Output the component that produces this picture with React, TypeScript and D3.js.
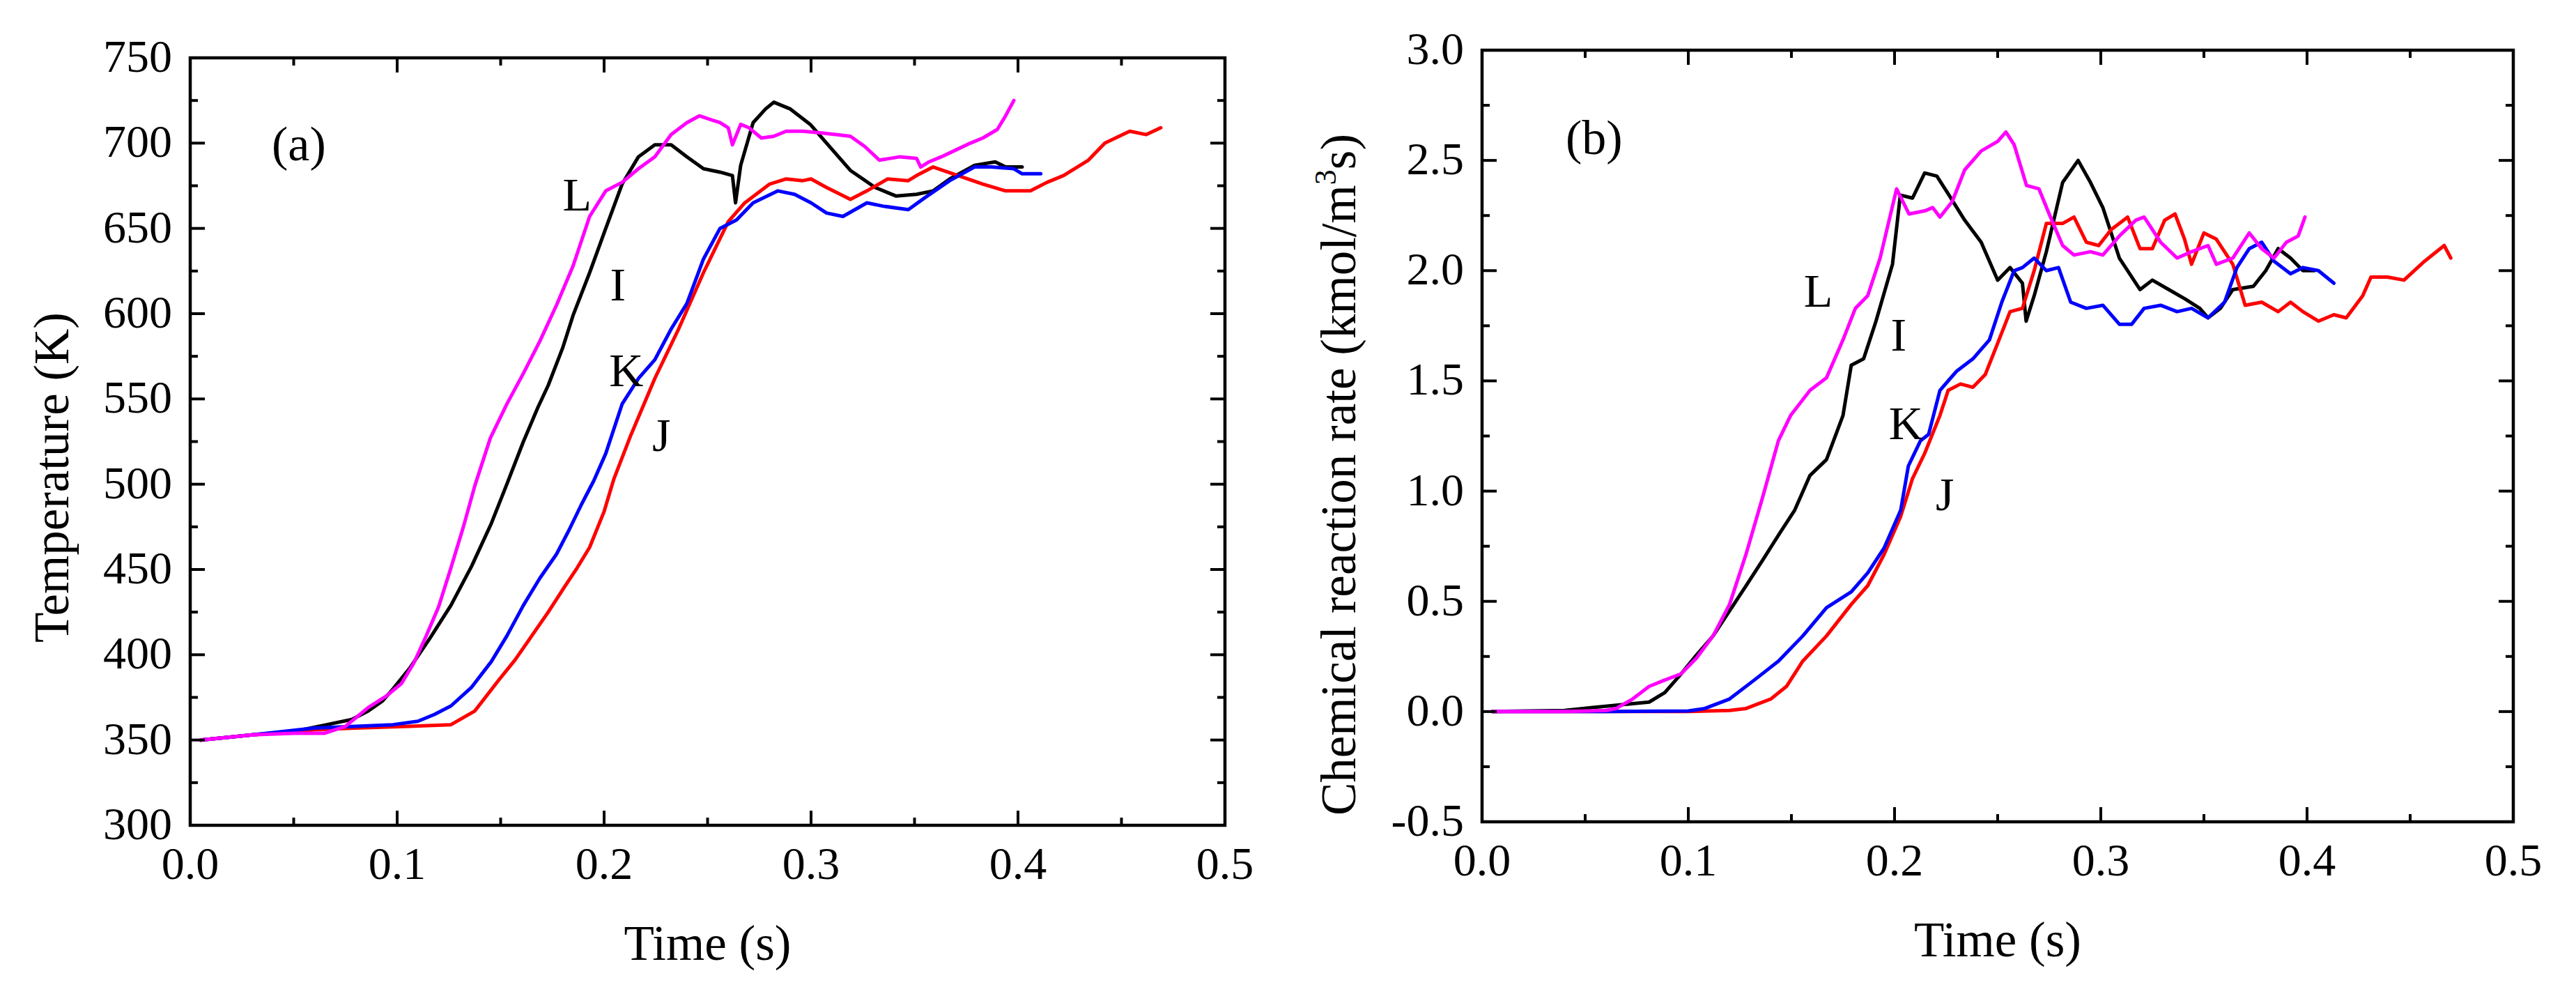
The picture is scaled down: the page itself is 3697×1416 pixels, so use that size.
import React from "react";
import * as d3 from "d3";

type Pt = [number, number];

// Panel (a): temperature (K) vs time (s)
const tempI: Pt[] = [[0.005,350],[0.03,353],[0.05,355],[0.066,359],[0.078,362],[0.086,367],[0.093,373],[0.098,380],[0.106,392],[0.116,410],[0.126,429],[0.136,452],[0.1455,477],[0.153,500],[0.161,525],[0.168,545],[0.173,558],[0.18,580],[0.185,599],[0.193,624],[0.2008,650],[0.2087,676],[0.2166,692],[0.2245,699],[0.2324,699],[0.24,692],[0.248,685],[0.256,683],[0.262,681],[0.2635,665],[0.266,687],[0.272,712],[0.278,720],[0.282,724],[0.29,720],[0.2996,711],[0.3075,700],[0.319,684],[0.331,674],[0.341,669],[0.351,670],[0.359,672],[0.367,679],[0.379,687],[0.389,689],[0.394,686],[0.402,686]];
const tempJ: Pt[] = [[0.005,350],[0.03,353],[0.06,356],[0.08,357],[0.106,358],[0.126,359],[0.1375,367],[0.149,385],[0.157,397],[0.165,411],[0.173,425],[0.181,440],[0.187,451],[0.193,463],[0.2,484],[0.2047,503],[0.213,529],[0.2245,562],[0.236,591],[0.248,624],[0.26,654],[0.268,665],[0.28,676],[0.288,679],[0.296,678],[0.3,679],[0.3075,674],[0.319,667],[0.327,672],[0.337,679],[0.347,678],[0.351,681],[0.359,686],[0.371,681],[0.383,676],[0.394,672],[0.406,672],[0.414,677],[0.422,681],[0.434,690],[0.442,700],[0.454,707],[0.462,705],[0.469,709]];
const tempK: Pt[] = [[0.005,350],[0.03,353],[0.06,357],[0.08,358],[0.098,359],[0.11,361],[0.118,365],[0.126,370],[0.136,381],[0.1455,396],[0.153,411],[0.161,429],[0.169,445],[0.177,459],[0.183,473],[0.189,488],[0.195,502],[0.2008,518],[0.2087,547],[0.2166,562],[0.2245,573],[0.2324,591],[0.24,606],[0.248,632],[0.256,650],[0.264,655],[0.272,665],[0.284,672],[0.292,670],[0.3,665],[0.3075,659],[0.3154,657],[0.327,665],[0.335,663],[0.347,661],[0.355,668],[0.367,678],[0.379,686],[0.387,686],[0.398,685],[0.402,682],[0.411,682]];
const tempL: Pt[] = [[0.005,350],[0.03,353],[0.05,354],[0.065,354],[0.075,358],[0.086,369],[0.095,376],[0.102,383],[0.108,395],[0.114,411],[0.12,428],[0.126,451],[0.132,475],[0.1375,499],[0.145,527],[0.153,547],[0.161,565],[0.169,584],[0.177,605],[0.185,628],[0.193,657],[0.2008,672],[0.2087,677],[0.2166,685],[0.2245,692],[0.2324,705],[0.24,712],[0.246,716],[0.256,712],[0.26,709],[0.262,699],[0.266,711],[0.27,709],[0.276,703],[0.282,704],[0.288,707],[0.296,707],[0.305,706],[0.312,705],[0.319,704],[0.326,698],[0.333,690],[0.338,691],[0.343,692],[0.351,691],[0.353,686],[0.357,689],[0.363,692],[0.37,696],[0.377,700],[0.383,703],[0.39,708],[0.394,716],[0.398,725]];

// Panel (b): chemical reaction rate vs time (s)
const rateI: Pt[] = [[0.005,0],[0.04,0.005],[0.049,0.014],[0.065,0.029],[0.081,0.043],[0.0886,0.086],[0.0965,0.171],[0.104,0.257],[0.112,0.343],[0.12,0.457],[0.128,0.571],[0.136,0.686],[0.1437,0.8],[0.1516,0.914],[0.159,1.071],[0.167,1.143],[0.175,1.343],[0.179,1.571],[0.185,1.6],[0.191,1.771],[0.199,2.029],[0.2028,2.343],[0.2087,2.329],[0.2146,2.443],[0.2205,2.429],[0.2264,2.343],[0.234,2.229],[0.242,2.129],[0.25,1.957],[0.256,2.014],[0.262,1.943],[0.2638,1.771],[0.2677,1.886],[0.2736,2.086],[0.2815,2.4],[0.289,2.5],[0.295,2.4],[0.301,2.286],[0.309,2.057],[0.319,1.914],[0.325,1.957],[0.333,1.914],[0.341,1.871],[0.348,1.829],[0.352,1.786],[0.358,1.829],[0.364,1.914],[0.374,1.929],[0.38,2.0],[0.386,2.1],[0.392,2.057],[0.398,2.0],[0.4035,2.0]];
const rateJ: Pt[] = [[0.005,0],[0.06,0],[0.1,0],[0.12,0.005],[0.128,0.014],[0.14,0.057],[0.1476,0.114],[0.1555,0.229],[0.167,0.343],[0.179,0.486],[0.187,0.571],[0.195,0.714],[0.203,0.886],[0.2087,1.057],[0.2146,1.171],[0.222,1.343],[0.226,1.457],[0.232,1.486],[0.238,1.471],[0.244,1.529],[0.25,1.671],[0.256,1.814],[0.262,1.829],[0.2677,2.0],[0.2736,2.214],[0.2815,2.214],[0.287,2.243],[0.293,2.129],[0.299,2.114],[0.305,2.186],[0.313,2.243],[0.319,2.1],[0.325,2.1],[0.331,2.229],[0.336,2.257],[0.3406,2.143],[0.344,2.029],[0.35,2.171],[0.356,2.143],[0.364,2.029],[0.37,1.843],[0.378,1.857],[0.386,1.814],[0.392,1.857],[0.398,1.814],[0.4055,1.771],[0.413,1.8],[0.419,1.786],[0.427,1.886],[0.431,1.971],[0.439,1.971],[0.447,1.957],[0.457,2.043],[0.4665,2.114],[0.4697,2.057]];
const rateK: Pt[] = [[0.005,0],[0.06,0],[0.1,0.003],[0.108,0.014],[0.12,0.057],[0.132,0.143],[0.1437,0.229],[0.1555,0.343],[0.167,0.471],[0.179,0.543],[0.187,0.629],[0.195,0.743],[0.203,0.914],[0.2067,1.114],[0.2126,1.229],[0.2165,1.257],[0.222,1.457],[0.23,1.543],[0.238,1.6],[0.246,1.686],[0.252,1.857],[0.258,2.0],[0.262,2.014],[0.2677,2.057],[0.2736,2.0],[0.2795,2.014],[0.2854,1.857],[0.293,1.829],[0.301,1.843],[0.309,1.757],[0.315,1.757],[0.321,1.829],[0.329,1.843],[0.337,1.814],[0.344,1.829],[0.352,1.786],[0.36,1.857],[0.366,2.014],[0.372,2.1],[0.378,2.129],[0.384,2.043],[0.392,1.986],[0.398,2.014],[0.4055,2.0],[0.413,1.943]];
const rateL: Pt[] = [[0.005,0],[0.04,0],[0.06,0.005],[0.065,0.014],[0.073,0.057],[0.081,0.114],[0.0886,0.143],[0.0965,0.171],[0.104,0.243],[0.112,0.343],[0.12,0.486],[0.128,0.714],[0.136,0.971],[0.1437,1.229],[0.1496,1.343],[0.159,1.457],[0.167,1.514],[0.175,1.686],[0.181,1.829],[0.187,1.886],[0.193,2.057],[0.201,2.371],[0.207,2.257],[0.2146,2.271],[0.2185,2.286],[0.222,2.243],[0.228,2.314],[0.234,2.457],[0.242,2.543],[0.25,2.586],[0.254,2.629],[0.258,2.571],[0.264,2.386],[0.27,2.371],[0.2756,2.243],[0.2815,2.114],[0.287,2.071],[0.295,2.086],[0.301,2.071],[0.309,2.157],[0.317,2.229],[0.321,2.243],[0.329,2.129],[0.337,2.057],[0.344,2.086],[0.352,2.114],[0.356,2.029],[0.364,2.057],[0.372,2.171],[0.378,2.1],[0.384,2.057],[0.39,2.129],[0.3957,2.157],[0.399,2.243]];

const xTicks = [0, 0.1, 0.2, 0.3, 0.4, 0.5];
const tempTicks = [300, 350, 400, 450, 500, 550, 600, 650, 700, 750];
const rateTicks = [-0.5, 0, 0.5, 1.0, 1.5, 2.0, 2.5, 3.0];

// curve labels: name, time, value (label centre)
const tempLabels: [string, number, number][] = [["L", 0.187, 670], ["I", 0.2067, 617], ["K", 0.2107, 567], ["J", 0.2277, 529]];
const rateLabels: [string, number, number][] = [["L", 0.163, 1.909], ["I", 0.202, 1.709], ["K", 0.2055, 1.309], ["J", 0.2244, 0.986]];

const FONT = "'Liberation Serif', 'Times New Roman', serif";

interface PanelProps {
  left: number; right: number; top: number; bottom: number;
  yDomain: [number, number];
  yTicks: number[];
  yFmt: (v: number) => string;
  yMinorStep: number;
  series: { data: Pt[]; color: string }[];
  labels: [string, number, number][];
  tag: string; tagX: number; tagY: number;
  yTitle: React.ReactNode; yTitleX: number; yTitleY: number;
}

function Panel(p: PanelProps) {
  const x = d3.scaleLinear().domain([0, 0.5]).range([p.left, p.right]);
  const y = d3.scaleLinear().domain(p.yDomain).range([p.bottom, p.top]);
  const line = d3.line<Pt>().x((d) => x(d[0])).y((d) => y(d[1]));

  const xMinor = d3.range(0.05, 0.5, 0.1);
  const yMinor = d3.range(p.yDomain[0] + p.yMinorStep, p.yDomain[1], p.yMinorStep * 2);
  const MAJ = 21, MIN = 11;

  return (
    <g fontFamily={FONT} fill="#000">
      {/* curves */}
      {p.series.map((s, i) => (
        <path key={i} d={line(s.data) || ""} fill="none" stroke={s.color} strokeWidth={5} strokeLinejoin="round" strokeLinecap="round" />
      ))}

      {/* frame */}
      <rect x={p.left} y={p.top} width={p.right - p.left} height={p.bottom - p.top} fill="none" stroke="#000" strokeWidth={4.5} />

      {/* x ticks */}
      {xTicks.map((t) => (
        <g key={"xt" + t}>
          <line x1={x(t)} x2={x(t)} y1={p.bottom} y2={p.bottom - MAJ} stroke="#000" strokeWidth={4} />
          <line x1={x(t)} x2={x(t)} y1={p.top} y2={p.top + MAJ} stroke="#000" strokeWidth={4} />
          <text x={x(t)} y={p.bottom + 77} fontSize={66} textAnchor="middle">{t.toFixed(1)}</text>
        </g>
      ))}
      {xMinor.map((t) => (
        <g key={"xm" + t}>
          <line x1={x(t)} x2={x(t)} y1={p.bottom} y2={p.bottom - MIN} stroke="#000" strokeWidth={4} />
          <line x1={x(t)} x2={x(t)} y1={p.top} y2={p.top + MIN} stroke="#000" strokeWidth={4} />
        </g>
      ))}

      {/* y ticks */}
      {p.yTicks.map((t) => (
        <g key={"yt" + t}>
          <line x1={p.left} x2={p.left + MAJ} y1={y(t)} y2={y(t)} stroke="#000" strokeWidth={4} />
          <line x1={p.right} x2={p.right - MAJ} y1={y(t)} y2={y(t)} stroke="#000" strokeWidth={4} />
          <text x={p.left - 26} y={y(t) + 20} fontSize={66} textAnchor="end">{p.yFmt(t)}</text>
        </g>
      ))}
      {yMinor.map((t) => (
        <g key={"ym" + t}>
          <line x1={p.left} x2={p.left + MIN} y1={y(t)} y2={y(t)} stroke="#000" strokeWidth={4} />
          <line x1={p.right} x2={p.right - MIN} y1={y(t)} y2={y(t)} stroke="#000" strokeWidth={4} />
        </g>
      ))}

      {/* curve labels */}
      {p.labels.map(([name, t, v]) => (
        <text key={name} x={x(t)} y={y(v) + 23} fontSize={68} textAnchor="middle">{name}</text>
      ))}

      <text x={p.tagX} y={p.tagY} fontSize={70}>{p.tag}</text>

      <text x={(p.left + p.right) / 2} y={p.bottom + 193} fontSize={71} textAnchor="middle">Time (s)</text>

      <text transform={`translate(${p.yTitleX},${p.yTitleY}) rotate(-90)`} fontSize={71} textAnchor="middle">{p.yTitle}</text>
    </g>
  );
}

export default function App() {
  const colors = { I: "#000000", J: "#ff0000", K: "#0000ff", L: "#ff00ff" };
  return (
    <svg width={3697} height={1416} style={{ position: "absolute", left: 0, top: 0, background: "#fff" }}>
      <rect width={3697} height={1416} fill="#fff" />
      <Panel
        left={273} right={1758} top={83} bottom={1184}
        yDomain={[300, 750]} yTicks={tempTicks} yFmt={(v) => String(v)} yMinorStep={25}
        series={[{ data: tempI, color: colors.I }, { data: tempJ, color: colors.J }, { data: tempK, color: colors.K }, { data: tempL, color: colors.L }]}
        labels={tempLabels}
        tag="(a)" tagX={390} tagY={230}
        yTitle="Temperature (K)" yTitleX={98} yTitleY={685}
      />
      <Panel
        left={2127} right={3607} top={72} bottom={1179}
        yDomain={[-0.5, 3.0]} yTicks={rateTicks} yFmt={(v) => v.toFixed(1)} yMinorStep={0.25}
        series={[{ data: rateI, color: colors.I }, { data: rateJ, color: colors.J }, { data: rateK, color: colors.K }, { data: rateL, color: colors.L }]}
        labels={rateLabels}
        tag="(b)" tagX={2247} tagY={221}
        yTitle={<>Chemical reaction rate (kmol/m<tspan fontSize={44} dy={-28}>3</tspan><tspan dy={28}>s)</tspan></>}
        yTitleX={1945} yTitleY={681}
      />
    </svg>
  );
}
